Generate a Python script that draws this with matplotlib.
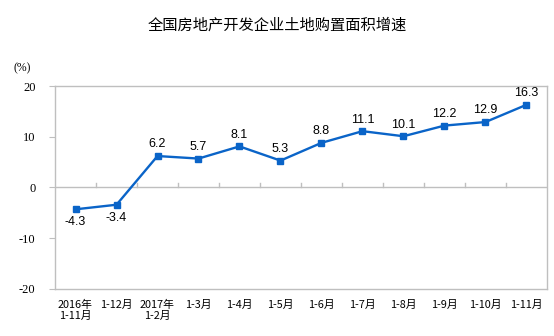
import matplotlib.pyplot as plt
import numpy as np

categories = ['2016年\n1-11月', '1-12月', '2017年\n1-2月', '1-3月', '1-4月', '1-5月',
              '1-6月', '1-7月', '1-8月', '1-9月', '1-10月', '1-11月']
growth = [-4.3, -3.4, 6.2, 5.7, 8.1, 5.3, 8.8, 11.1, 10.1, 12.2, 12.9, 16.3]
y_ticks = [-20, -10, 0, 10, 20]

line_color = '#0a64c8'
frame_color = '#bfbfbf'

fig = plt.figure(figsize=(5.54, 3.36), dpi=100)
ax = fig.add_axes([0.0993, 0.140, 0.888, 0.604])

x = np.arange(len(categories))
ax.plot(x, growth, color=line_color, lw=1.7, marker='s', ms=4.5, zorder=3)

for xi, v in zip(x, growth):
    if v < 0:
        ax.annotate(f'{v}', (xi, v), xytext=(0, -5), textcoords='offset points',
                    ha='center', va='top', fontsize=9, family='Liberation Sans')
    else:
        ax.annotate(f'{v}', (xi, v), xytext=(0, 4), textcoords='offset points',
                    ha='center', va='bottom', fontsize=9, family='Liberation Sans')

ax.set_xlim(-0.5, len(categories) - 0.5)
ax.set_ylim(-20, 20)
ax.set_yticks(y_ticks)
ax.set_yticklabels([str(t) for t in y_ticks], family='Liberation Serif', fontsize=9)
ax.tick_params(axis='y', length=4, color=frame_color, pad=10)

ax.set_xticks(x)
ax.set_xticklabels(categories, family='Noto Sans CJK SC', fontsize=7.8, linespacing=1.05,
                   ha='center', va='top')
ax.tick_params(axis='x', length=0, pad=8)

# category boundary ticks on the zero line
ax.axhline(0, color=frame_color, lw=1, zorder=1)
for b in np.arange(0.5, len(categories) - 0.5, 1):
    ax.plot([b, b], [0, 0.8], color=frame_color, lw=1, zorder=1)

for s in ax.spines.values():
    s.set_color(frame_color)
    s.set_linewidth(1)

fig.text(0.5, 0.925, '全国房地产开发企业土地购置面积增速', ha='center', va='center',
         family='Noto Sans CJK SC', fontsize=11)
fig.text(0.04, 0.797, '(%)', ha='center', va='center', family='Liberation Serif', fontsize=8.5)

fig.savefig('out.png', dpi=100)
